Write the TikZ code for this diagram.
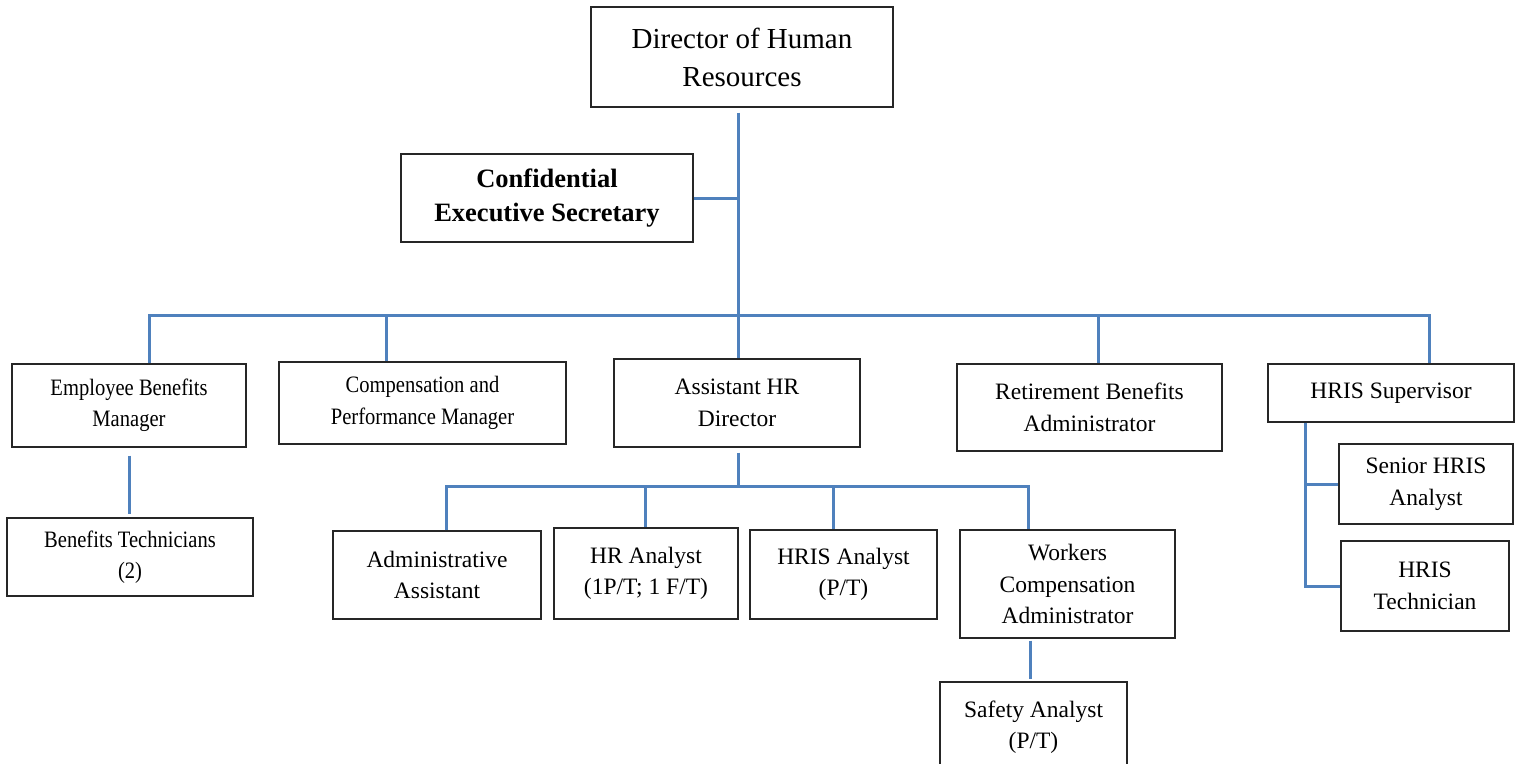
\documentclass[tikz,border=0pt]{standalone}
\usepackage{fontspec}
\setmainfont{Liberation Serif}
\newfontfamily\narrowserif[FakeStretch=0.875]{Liberation Serif}
\definecolor{linkblue}{HTML}{4F81BD}
\begin{document}
\begin{tikzpicture}[x=1pt,y=-1pt,
  box/.style={draw=black!85, line width=1.3pt, align=center, inner sep=0pt,
              font=\fontsize{23.5}{31.5}\selectfont},
  narrow/.style={font=\narrowserif\fontsize{23.5}{31.5}\selectfont},
  link/.style={draw=linkblue, line width=3pt}]
\useasboundingbox (0,0) rectangle (1522,763);

% top level
\node[box, minimum width=302, minimum height=100, font=\fontsize{29}{38}\selectfont]
  (dir) at (742,57) {Director of Human\\Resources};
\node[box, minimum width=292, minimum height=88, font=\bfseries\fontsize{26.5}{34}\selectfont]
  (conf) at (547,198) {Confidential\\Executive Secretary};

% second level
\node[box, narrow, minimum width=234, minimum height=83] (ebm) at (129,405.5) {Employee Benefits\\Manager};
\node[box, narrow, minimum width=287, minimum height=82] (cpm) at (422.5,403) {Compensation and\\Performance Manager};
\node[box, minimum width=246, minimum height=88] (ahr) at (737,403) {Assistant HR\\Director};
\node[box, minimum width=265, minimum height=87] (rba) at (1089.5,407.5) {Retirement Benefits\\Administrator};
\node[box, minimum width=246, minimum height=58] (hsup) at (1391,393) {HRIS Supervisor};

% third level
\node[box, narrow, minimum width=246, minimum height=78] (btech) at (130,557) {Benefits Technicians\\(2)};
\node[box, minimum width=208, minimum height=88] (adm) at (437,575) {Administrative\\Assistant};
\node[box, minimum width=184, minimum height=91] (hra) at (646,573.5) {HR Analyst\\(1P/T; 1 F/T)};
\node[box, minimum width=187, minimum height=89] (hrisa) at (843.5,574.5) {HRIS Analyst\\(P/T)};
\node[box, minimum width=215, minimum height=108] (wca) at (1067.5,584) {Workers\\Compensation\\Administrator};
\node[box, minimum width=174, minimum height=80] (shra) at (1426,484) {Senior HRIS\\Analyst};
\node[box, minimum width=168, minimum height=90] (htech) at (1425,586) {HRIS\\Technician};

% fourth level
\node[box, minimum width=187, minimum height=90] (safe) at (1033.5,727) {Safety Analyst\\(P/T)};

% connector routing points
\coordinate (hub) at (738,315);
\coordinate (barL) at (149,315);
\coordinate (barC) at (386,315);
\coordinate (barR) at (1098,315);
\coordinate (barE) at (1429,315);
\coordinate (sub) at (738,486);
\coordinate (subL) at (446,486);
\coordinate (subA) at (645,486);
\coordinate (subB) at (833,486);
\coordinate (subE) at (1028,486);
\coordinate (wx) at (1030,660);
\coordinate (hx) at (1305,500);

% director trunk and secretary
\draw[link] ([yshift=-5pt]dir.south -| hub) -- (ahr.north -| hub);
\draw[link] (conf.east) -- (conf.east -| hub);

% main bar
\draw[link] (ebm.north -| barL) -- (barL) -- (barE) -- (hsup.north -| barE);
\draw[link] (barC) -- (cpm.north -| barC);
\draw[link] (barR) -- (rba.north -| barR);

% employee benefits branch
\draw[link] ([yshift=-8pt]ebm.south) -- ([yshift=3pt]btech.north -| ebm.south);

% assistant director branch
\draw[link] ([yshift=-5pt]ahr.south -| sub) -- (sub);
\draw[link] (adm.north -| subL) -- (subL) -- (subE) -- (wca.north -| subE);
\draw[link] (subA) -- (hra.north -| subA);
\draw[link] (subB) -- (hrisa.north -| subB);
\draw[link] ([yshift=-2pt]wca.south -| wx) -- ([yshift=2pt]safe.north -| wx);

% HRIS branch
\draw[link] (hsup.south -| hx) -- (htech.west -| hx) -- (htech.west);
\draw[link] (shra.west -| hx) -- (shra.west);
\end{tikzpicture}
\end{document}
